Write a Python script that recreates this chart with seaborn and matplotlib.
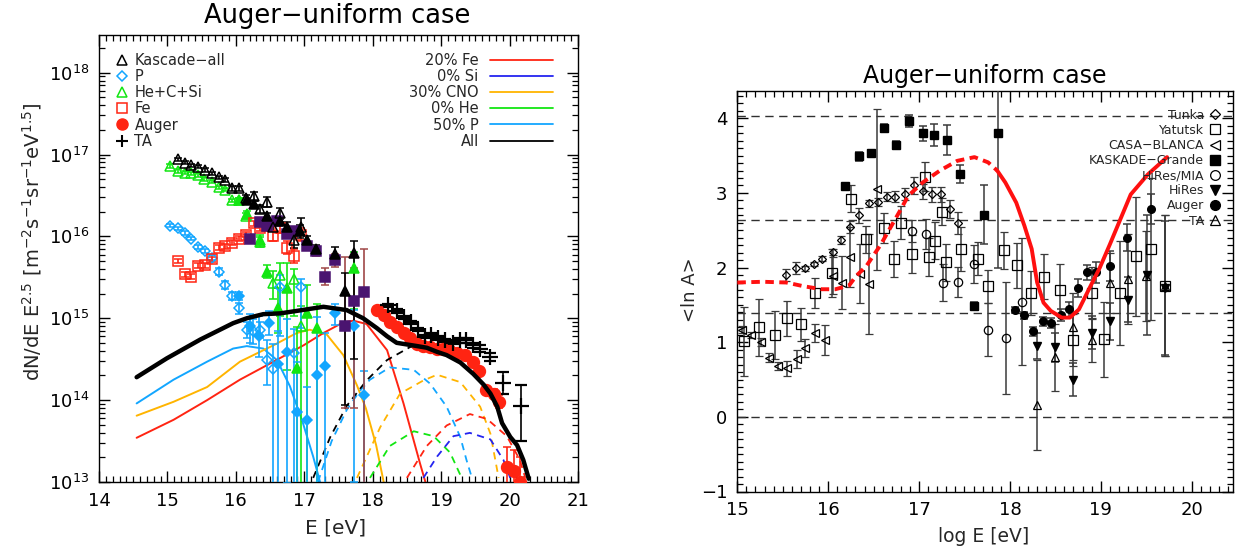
import numpy as np
import matplotlib
matplotlib.use("Agg")
import matplotlib.pyplot as plt
import seaborn as sns
from matplotlib.lines import Line2D
from matplotlib.ticker import MultipleLocator, LogLocator, NullFormatter

# ---------------- spectrum panel data (log10 E, log10 flux) ----------------
ka_x = [15.15, 15.25, 15.35, 15.44, 15.55, 15.65, 15.75, 15.84, 15.95, 16.05, 16.15, 16.26, 16.35, 16.45, 16.55, 16.65, 16.85, 16.95]
ka_ly = [16.94, 16.90, 16.87, 16.85, 16.81, 16.77, 16.72, 16.69, 16.59, 16.59, 16.47, 16.49, 16.33, 16.42, 16.12, 16.28, 15.96, 16.12]
ka_err = [0.02, 0.02, 0.02, 0.02, 0.02, 0.02, 0.02, 0.02, 0.03, 0.03, 0.03, 0.05, 0.05, 0.06, 0.06, 0.07, 0.10, 0.10]

kga_x = [16.16, 16.26, 16.45, 16.65, 16.75, 16.94, 17.04, 17.17, 17.45, 17.60, 17.73]
kga_ly = [16.44, 16.40, 16.25, 16.19, 16.12, 16.06, 15.96, 15.84, 15.79, 15.33, 15.80]
kga_lo = [0.03, 0.03, 0.04, 0.05, 0.06, 0.08, 0.05, 0.06, 0.08, 1.39, 1.30]
kga_hi = [0.03, 0.03, 0.04, 0.05, 0.06, 0.08, 0.05, 0.06, 0.08, 0.22, 0.14]

he_x = [15.04, 15.15, 15.25, 15.35, 15.44, 15.54, 15.65, 15.75, 15.84, 15.94, 16.05, 16.15, 16.35, 16.55, 16.65, 16.85, 16.95]
he_ly = [16.86, 16.80, 16.78, 16.77, 16.75, 16.70, 16.67, 16.60, 16.57, 16.44, 16.44, 16.25, 15.93, 15.43, 15.53, 15.48, 14.90]
he_lo = [0.02, 0.02, 0.02, 0.02, 0.02, 0.02, 0.02, 0.02, 0.02, 0.02, 0.03, 0.04, 0.06, 0.20, 0.50, 0.45, 2.00]
he_hi = [0.02, 0.02, 0.02, 0.02, 0.02, 0.02, 0.02, 0.02, 0.02, 0.02, 0.03, 0.04, 0.06, 0.15, 0.15, 0.12, 0.25]

kgh_x = [16.05, 16.16, 16.35, 16.45, 16.62, 16.75, 16.89, 17.04, 17.18, 17.73]
kgh_ly = [16.44, 16.27, 15.96, 15.57, 15.12, 15.37, 14.39, 15.06, 14.88, 15.61]
kgh_lo = [0.03, 0.04, 0.06, 0.08, 0.30, 1.00, 1.50, 2.10, 1.90, 0.50]
kgh_hi = [0.03, 0.04, 0.06, 0.08, 0.25, 0.30, 0.50, 0.35, 0.30, 0.20]

p_x = [15.04, 15.15, 15.25, 15.35, 15.44, 15.55, 15.65, 15.75, 15.84, 15.95, 16.05, 16.16, 16.25, 16.35, 16.45, 16.54, 16.65, 16.85, 16.95]
p_ly = [16.13, 16.10, 16.04, 15.97, 15.87, 15.82, 15.74, 15.57, 15.41, 15.27, 15.12, 14.86, 14.84, 14.86, 14.49, 14.38, 15.38, 14.57, 15.38]
p_lo = [0.02, 0.02, 0.02, 0.02, 0.02, 0.02, 0.03, 0.04, 0.05, 0.05, 0.07, 0.10, 0.15, 0.10, 0.30, 1.40, 0.60, 1.60, 0.50]
p_hi = [0.02, 0.02, 0.02, 0.02, 0.02, 0.02, 0.03, 0.04, 0.05, 0.05, 0.07, 0.10, 0.15, 0.10, 0.25, 0.30, 0.15, 0.30, 0.10]

kgp_x = [16.05, 16.20, 16.34, 16.48, 16.61, 16.75, 16.89, 17.04, 17.18, 17.31, 17.45, 17.73, 17.87]
kgp_ly = [15.27, 14.90, 14.78, 14.94, 14.44, 14.59, 13.86, 13.76, 14.31, 14.42, 15.07, 14.90, 14.06]
kgp_lo = [0.05, 0.20, 0.25, 0.15, 1.50, 1.60, 0.90, 0.80, 1.40, 1.50, 0.15, 1.90, 1.10]
kgp_hi = [0.05, 0.15, 0.25, 0.15, 0.40, 0.40, 0.60, 0.40, 0.70, 0.40, 0.10, 0.20, 0.30]

fe_x = [15.15, 15.25, 15.35, 15.44, 15.55, 15.65, 15.75, 15.84, 15.95, 16.05, 16.15, 16.26, 16.35, 16.45, 16.55, 16.65, 16.75, 16.85, 16.95]
fe_ly = [15.70, 15.54, 15.51, 15.64, 15.65, 15.72, 15.86, 15.88, 15.92, 15.97, 16.02, 16.16, 16.10, 16.13, 16.00, 16.10, 15.86, 15.76, 16.02]
fe_err = [0.03, 0.03, 0.03, 0.03, 0.03, 0.03, 0.03, 0.03, 0.03, 0.03, 0.03, 0.03, 0.04, 0.04, 0.06, 0.06, 0.08, 0.08, 0.08]

kgf_x = [16.20, 16.35, 16.45, 16.60, 16.75, 16.85, 17.04, 17.17, 17.31, 17.45, 17.60, 17.73, 17.87]
kgf_ly = [15.97, 16.18, 16.13, 16.19, 16.03, 16.06, 15.88, 15.82, 15.51, 15.71, 14.90, 15.21, 15.32]
kgf_lo = [0.03, 0.04, 0.04, 0.04, 0.05, 0.05, 0.05, 0.06, 0.10, 0.08, 1.00, 1.30, 2.40]
kgf_hi = [0.03, 0.04, 0.04, 0.04, 0.05, 0.05, 0.05, 0.06, 0.10, 0.08, 0.85, 0.40, 0.53]

au_x = [18.06, 18.16, 18.25, 18.35, 18.45, 18.55, 18.64, 18.74, 18.84, 18.94, 19.03, 19.13, 19.23, 19.35, 19.46, 19.56, 19.66, 19.77, 19.85, 19.96, 20.06, 20.15]
au_ly = [15.10, 15.04, 14.96, 14.89, 14.82, 14.76, 14.69, 14.66, 14.65, 14.63, 14.62, 14.60, 14.58, 14.55, 14.47, 14.36, 14.12, 14.08, 13.98, 13.18, 13.14, 13.00]
au_err = [0.01, 0.01, 0.01, 0.01, 0.01, 0.01, 0.01, 0.01, 0.01, 0.01, 0.01, 0.02, 0.02, 0.02, 0.03, 0.04, 0.05, 0.06, 0.08, 0.25, 0.25, 0.30]

ta_x = [18.23, 18.35, 18.46, 18.56, 18.66, 18.76, 18.85, 18.96, 19.06, 19.17, 19.28, 19.37, 19.47, 19.57, 19.71, 19.91, 20.16]
ta_ly = [15.16, 15.09, 15.01, 14.95, 14.86, 14.78, 14.80, 14.76, 14.73, 14.70, 14.73, 14.73, 14.67, 14.63, 14.53, 14.21, 13.93]
ta_lo = [0.02, 0.02, 0.02, 0.02, 0.02, 0.02, 0.02, 0.02, 0.02, 0.02, 0.03, 0.03, 0.03, 0.04, 0.05, 0.13, 0.43]
ta_hi = [0.02, 0.02, 0.02, 0.02, 0.02, 0.02, 0.02, 0.02, 0.02, 0.02, 0.03, 0.03, 0.03, 0.04, 0.05, 0.13, 0.25]

# model curves (log10 E, log10 flux)
all_x = [14.55, 14.99, 15.48, 15.96, 16.16, 16.40, 16.65, 16.89, 17.28, 17.62, 17.86, 18.06, 18.21, 18.35, 18.50, 18.65, 18.79, 18.94, 19.08, 19.28, 19.47, 19.62, 19.72, 19.82, 19.89, 20.01, 20.11, 20.20, 20.28]
all_ly = [14.28, 14.51, 14.74, 14.94, 15.00, 15.05, 15.06, 15.09, 15.14, 15.10, 15.00, 14.88, 14.78, 14.70, 14.68, 14.66, 14.64, 14.59, 14.55, 14.46, 14.32, 14.19, 14.08, 13.92, 13.72, 13.55, 13.45, 13.27, 13.04]

galp_x = [14.55, 15.09, 15.58, 15.96, 16.16, 16.40, 16.60, 16.79, 16.98, 17.13, 17.23]
galp_ly = [13.96, 14.25, 14.47, 14.63, 14.66, 14.63, 14.49, 14.17, 13.72, 13.31, 13.00]
galcno_x = [14.55, 15.09, 15.58, 16.06, 16.55, 16.89, 17.08, 17.33, 17.57, 17.77, 17.90, 18.05, 18.16]
galcno_ly = [13.81, 13.98, 14.16, 14.47, 14.67, 14.82, 14.86, 14.80, 14.55, 14.18, 13.90, 13.45, 13.00]
galfe_x = [14.55, 15.09, 15.58, 16.06, 16.55, 16.99, 17.28, 17.57, 17.72, 17.91, 18.21, 18.45, 18.69, 18.77]
galfe_ly = [13.54, 13.76, 14.00, 14.25, 14.47, 14.67, 14.82, 14.95, 14.97, 14.93, 14.61, 13.96, 13.23, 13.00]

egall_x = [17.13, 17.38, 17.62, 17.91, 18.21, 18.55, 18.85]
egall_ly = [13.05, 13.55, 13.93, 14.24, 14.49, 14.65, 14.66]
egp_x = [17.20, 17.40, 17.62, 17.80, 17.96, 18.25, 18.60, 18.84, 19.08, 19.28, 19.37, 19.45]
egp_ly = [13.00, 13.50, 13.88, 14.10, 14.25, 14.40, 14.37, 14.20, 13.92, 13.55, 13.27, 13.05]
egcno_x = [17.77, 18.11, 18.40, 18.74, 18.94, 19.28, 19.57, 19.72, 19.80, 19.84]
egcno_ly = [13.05, 13.67, 14.08, 14.24, 14.31, 14.22, 13.92, 13.59, 13.23, 13.05]
eghe_x = [17.96, 18.25, 18.60, 18.89, 19.13, 19.30]
eghe_ly = [13.05, 13.44, 13.62, 13.56, 13.36, 13.05]
egfe_x = [18.50, 18.79, 19.08, 19.42, 19.67, 19.96, 20.15, 20.23]
egfe_ly = [13.05, 13.44, 13.69, 13.83, 13.77, 13.56, 13.27, 13.05]
egsi_x = [18.74, 18.94, 19.18, 19.42, 19.72, 19.91, 20.01]
egsi_ly = [13.05, 13.31, 13.56, 13.60, 13.52, 13.27, 13.05]

mix_labels = ["20% Fe", "0% Si", "30% CNO", "0% He", "50% P", "All"]

# ---------------- <ln A> panel data ----------------
tu_x = [15.54, 15.65, 15.75, 15.84, 15.93, 16.05, 16.14, 16.24, 16.34, 16.45, 16.55, 16.65, 16.74, 16.85, 16.95, 17.04, 17.14, 17.24, 17.34, 17.43]
tu_y = [1.90, 1.99, 1.99, 2.05, 2.12, 2.21, 2.37, 2.55, 2.70, 2.86, 2.88, 2.95, 2.95, 2.99, 3.10, 3.02, 2.98, 2.98, 2.78, 2.60]
tu_e = [0.08, 0.08, 0.03, 0.03, 0.03, 0.04, 0.05, 0.08, 0.10, 0.05, 0.05, 0.06, 0.07, 0.08, 0.12, 0.10, 0.10, 0.10, 0.12, 0.15]

ya_x = [15.07, 15.24, 15.41, 15.55, 15.70, 15.85, 16.04, 16.25, 16.42, 16.62, 16.72, 16.80, 16.92, 17.07, 17.11, 17.18, 17.25, 17.30, 17.46, 17.65, 17.76, 17.93, 18.08, 18.23, 18.38, 18.55, 18.70, 18.90, 19.04, 19.21, 19.39, 19.55, 19.71]
ya_y = [1.01, 1.20, 1.10, 1.32, 1.24, 1.66, 1.93, 2.92, 2.38, 2.53, 2.12, 2.60, 2.18, 3.22, 2.14, 2.36, 2.75, 2.07, 2.25, 2.12, 1.75, 2.23, 2.03, 1.66, 1.88, 1.70, 1.03, 1.66, 1.04, 1.66, 2.15, 2.25, 1.76]
ya_e = [0.46, 0.38, 0.32, 0.23, 0.22, 0.20, 0.32, 0.18, 0.18, 0.20, 0.24, 0.22, 0.25, 0.20, 0.25, 0.25, 0.18, 0.25, 0.30, 0.22, 0.22, 0.25, 0.30, 0.30, 0.30, 0.35, 0.35, 0.35, 0.50, 0.70, 0.80, 0.95, 0.95]

cb_x = [15.05, 15.15, 15.26, 15.35, 15.45, 15.55, 15.66, 15.75, 15.85, 15.96, 16.05, 16.15, 16.24, 16.35, 16.45, 16.54]
cb_y = [1.17, 1.10, 1.00, 0.79, 0.68, 0.65, 0.77, 0.92, 1.12, 1.03, 1.89, 1.80, 2.14, 1.92, 1.78, 3.05]
cb_e = [0.05, 0.04, 0.05, 0.06, 0.05, 0.10, 0.12, 0.12, 0.12, 0.20, 0.25, 0.35, 0.40, 0.40, 0.67, 1.08]

kg_x = [16.19, 16.34, 16.47, 16.61, 16.75, 16.89, 17.04, 17.17, 17.31, 17.45, 17.60, 17.72, 17.87]
kg_y = [3.09, 3.49, 3.53, 3.87, 3.64, 3.97, 3.80, 3.78, 3.71, 3.26, 1.49, 2.71, 3.80]
kg_e = [0.02, 0.06, 0.04, 0.05, 0.05, 0.08, 0.10, 0.15, 0.20, 0.12, 0.05, 0.40, 1.80]

hm_x = [16.92, 17.08, 17.26, 17.43, 17.61, 17.76, 17.96, 18.13]
hm_y = [2.49, 2.45, 1.80, 1.81, 2.05, 1.17, 1.06, 1.54]
hm_e = [0.15, 0.20, 0.25, 0.20, 0.25, 0.35, 0.75, 0.85]

hr_x = [18.30, 18.50, 18.70, 18.90, 19.10, 19.30, 19.51, 19.71]
hr_y = [0.95, 0.93, 0.50, 1.13, 1.28, 1.57, 1.90, 1.73]
hr_e = [0.17, 0.20, 0.22, 0.22, 0.25, 0.30, 0.80, 0.90]

aug_x = [18.06, 18.15, 18.25, 18.36, 18.45, 18.56, 18.65, 18.75, 18.85, 18.95, 19.10, 19.29, 19.55]
aug_y = [1.43, 1.36, 1.15, 1.28, 1.26, 1.37, 1.44, 1.73, 1.94, 1.94, 2.02, 2.40, 2.78]
aug_e = [0.04, 0.05, 0.06, 0.06, 0.07, 0.08, 0.10, 0.12, 0.10, 0.14, 0.20, 0.18, 0.20]

tar_x = [18.30, 18.50, 18.70, 18.90, 19.10, 19.30, 19.50, 19.71]
tar_y = [0.16, 0.80, 1.21, 1.03, 1.79, 1.85, 1.89, 1.76]
tar_e = [0.60, 0.45, 0.45, 0.30, 0.40, 0.60, 0.60, 0.95]

lnA_dash_x = [15.00, 15.28, 15.54, 15.73, 15.93, 16.08, 16.23, 16.31, 16.42, 16.58, 16.79, 16.88, 17.04, 17.23, 17.42, 17.61, 17.76, 17.86]
lnA_dash_y = [1.80, 1.81, 1.80, 1.75, 1.71, 1.71, 1.76, 1.89, 2.02, 2.31, 2.76, 2.96, 3.14, 3.30, 3.43, 3.48, 3.41, 3.30]
lnA_solid_x = [17.86, 17.95, 18.07, 18.16, 18.24, 18.30, 18.37, 18.45, 18.57, 18.66, 18.76, 18.87, 18.99, 19.10, 19.33, 19.52, 19.73]
lnA_solid_y = [3.30, 3.14, 2.87, 2.56, 2.25, 1.80, 1.53, 1.42, 1.33, 1.33, 1.44, 1.71, 2.00, 2.31, 2.98, 3.25, 3.48]

# ln A of P, He, CNO, Fe reference levels
lnA_refs = [0.0, np.log(4), np.log(14), np.log(56)]

# ---------------- style ----------------
sns.set_theme(style="ticks")
plt.rcParams["font.family"] = ["DejaVu Sans"]
plt.rcParams["mathtext.fontset"] = "dejavusans"
plt.rcParams["axes.linewidth"] = 1.0

RED = "#ff2412"
LBLUE = "#12a6ff"
ORANGE = "#ffb400"
GREEN = "#12e612"
BLUE = "#2424f0"
PURPLE = "#4a1470"
BROWN = "#a04848"

fig = plt.figure(figsize=(12.48, 5.51), dpi=100)
axL = fig.add_axes([99 / 1248, 69 / 551, 479 / 1248, 447 / 551])
axR = fig.add_axes([737.3 / 1248, 59.5 / 551, 495.2 / 1248, 400.8 / 551])
for ax in (axL, axR):
    ax.set_facecolor("white")
    for s in ax.spines.values():
        s.set_color("black")
        s.set_linewidth(1.0)

axL.set_yscale("log")
axL.set_xlim(14, 21)
axL.set_ylim(1e13, 10 ** 18.46)


def log_points(ax, xs, ly, lo, hi, marker, color, ms, filled, ecolor=None, z=3, mew=1.1, cap=3):
    ly = np.asarray(ly, float)
    y = 10 ** ly
    ylo = y - 10 ** (ly - np.asarray(lo, float))
    yhi = 10 ** (ly + np.asarray(hi, float)) - y
    ax.errorbar(xs, y, yerr=[ylo, yhi], fmt=marker, ms=ms, mec=color,
                mfc=color if filled else "none", mew=mew,
                ecolor=ecolor or color, elinewidth=1.2, capsize=cap,
                capthick=1.2, zorder=z)


def log_curve(ax, xs, ly, color, lw, ls="-", z=2):
    sns.lineplot(x=xs, y=10 ** np.asarray(ly, float), ax=ax, color=color,
                 linewidth=lw, linestyle=ls, sort=False, estimator=None, zorder=z)


# galactic and extragalactic components
dash = (0, (4, 3))
log_curve(axL, galp_x, galp_ly, LBLUE, 1.4)
log_curve(axL, galcno_x, galcno_ly, ORANGE, 1.4)
log_curve(axL, galfe_x, galfe_ly, RED, 1.4)
log_curve(axL, egp_x, egp_ly, LBLUE, 1.3, dash)
log_curve(axL, egall_x, egall_ly, "black", 1.3, dash)
log_curve(axL, egcno_x, egcno_ly, ORANGE, 1.3, dash)
log_curve(axL, eghe_x, eghe_ly, GREEN, 1.3, dash)
log_curve(axL, egfe_x, egfe_ly, RED, 1.3, dash)
log_curve(axL, egsi_x, egsi_ly, BLUE, 1.3, dash)

# measurements
log_points(axL, he_x, he_ly, he_lo, he_hi, "^", GREEN, 7, False)
log_points(axL, kgh_x, kgh_ly, kgh_lo, kgh_hi, "^", GREEN, 6.5, True)
log_points(axL, p_x, p_ly, p_lo, p_hi, "D", LBLUE, 5.5, False)
log_points(axL, kgp_x, kgp_ly, kgp_lo, kgp_hi, "D", LBLUE, 5, True)
log_points(axL, fe_x, fe_ly, fe_err, fe_err, "s", RED, 7.5, False)
log_points(axL, kgf_x, kgf_ly, kgf_lo, kgf_hi, "s", PURPLE, 7.5, True, ecolor=BROWN)
log_points(axL, ka_x, ka_ly, ka_err, ka_err, "^", "black", 7, False)
log_points(axL, kga_x, kga_ly, kga_lo, kga_hi, "^", "black", 6.5, True)
log_points(axL, au_x, au_ly, au_err, au_err, "o", RED, 8.5, True)
log_points(axL, ta_x, ta_ly, ta_lo, ta_hi, "+", "black", 11, False, mew=1.6, cap=4)

log_curve(axL, all_x, all_ly, "black", 3.2, z=6)

axL.xaxis.set_major_locator(MultipleLocator(1))
axL.xaxis.set_minor_locator(MultipleLocator(0.1))
axL.yaxis.set_major_locator(LogLocator(base=10, numticks=20))
axL.yaxis.set_minor_locator(LogLocator(base=10, subs=np.arange(2, 10), numticks=20))
axL.yaxis.set_minor_formatter(NullFormatter())

# legends of the spectrum panel
data_handles = [
    Line2D([], [], ls="none", marker="^", ms=7, mec="black", mfc="none", mew=1.1),
    Line2D([], [], ls="none", marker="D", ms=5.5, mec=LBLUE, mfc="none", mew=1.1),
    Line2D([], [], ls="none", marker="^", ms=7, mec=GREEN, mfc="none", mew=1.1),
    Line2D([], [], ls="none", marker="s", ms=7.5, mec=RED, mfc="none", mew=1.1),
    Line2D([], [], ls="none", marker="o", ms=8, mec=RED, mfc=RED),
    Line2D([], [], ls="none", marker="+", ms=9, mec="black", mew=1.5),
]
data_labels = ["Kascade\u2212all", "P", "He+C+Si", "Fe", "Auger", "TA"]
legA = axL.legend(data_handles, data_labels, loc="upper left",
                  bbox_to_anchor=(0.033, 0.96), frameon=False, fontsize=10.5,
                  handlelength=1.0, handletextpad=0.35, labelspacing=0.08,
                  borderpad=0, borderaxespad=0)
axL.add_artist(legA)
mix_handles = [Line2D([], [], color=c, lw=1.3) for c in (RED, BLUE, ORANGE, GREEN, LBLUE, "black")]
axL.legend(mix_handles, mix_labels, loc="upper right",
           bbox_to_anchor=(0.948, 0.96), frameon=False, fontsize=10.5,
           handlelength=4.3, handletextpad=0.8, labelspacing=0.08,
           markerfirst=False, borderpad=0, borderaxespad=0)

# ---------------- <ln A> panel ----------------
axR.set_xlim(15, 20.45)
axR.set_ylim(-1, 4.37)
for lv in lnA_refs:
    axR.axhline(lv, color="#303030", lw=1.0, ls=(0, (6, 4)), zorder=1)

ekw = dict(ecolor="#3a3a3a", elinewidth=1.1, capsize=3, capthick=1.1, zorder=3)
axR.errorbar(tu_x, tu_y, yerr=tu_e, fmt="D", ms=4, mec="black", mfc="none", mew=0.9, **ekw)
axR.errorbar(ya_x, ya_y, yerr=ya_e, fmt="s", ms=7, mec="black", mfc="none", mew=0.9, **ekw)
axR.errorbar(cb_x, cb_y, yerr=cb_e, fmt="<", ms=6, mec="black", mfc="none", mew=0.9, **ekw)
axR.errorbar(kg_x, kg_y, yerr=kg_e, fmt="s", ms=6, mec="black", mfc="black", **ekw)
axR.errorbar(hm_x, hm_y, yerr=hm_e, fmt="o", ms=6, mec="black", mfc="none", mew=0.9, **ekw)
axR.errorbar(hr_x, hr_y, yerr=hr_e, fmt="v", ms=5.5, mec="black", mfc="black", **ekw)
axR.errorbar(aug_x, aug_y, yerr=aug_e, fmt="o", ms=5.5, mec="black", mfc="black", **ekw)
axR.errorbar(tar_x, tar_y, yerr=tar_e, fmt="^", ms=6, mec="black", mfc="none", mew=0.9, **ekw)

sns.lineplot(x=lnA_dash_x, y=lnA_dash_y, ax=axR, color="#ff1010", linewidth=2.8,
             linestyle=(0, (2.2, 1.4)), sort=False, estimator=None, zorder=5)
sns.lineplot(x=lnA_solid_x, y=lnA_solid_y, ax=axR, color="#ff1010", linewidth=2.8,
             sort=False, estimator=None, zorder=5)

axR.xaxis.set_major_locator(MultipleLocator(1))
axR.xaxis.set_minor_locator(MultipleLocator(0.1))
axR.yaxis.set_major_locator(MultipleLocator(1))
axR.yaxis.set_minor_locator(MultipleLocator(0.1))

exp_handles = [
    Line2D([], [], ls="none", marker="D", ms=5, mec="black", mfc="none", mew=0.9),
    Line2D([], [], ls="none", marker="s", ms=7, mec="black", mfc="none", mew=0.9),
    Line2D([], [], ls="none", marker="<", ms=7, mec="black", mfc="none", mew=0.9),
    Line2D([], [], ls="none", marker="s", ms=7, mec="black", mfc="black"),
    Line2D([], [], ls="none", marker="o", ms=7, mec="black", mfc="none", mew=0.9),
    Line2D([], [], ls="none", marker="v", ms=7, mec="black", mfc="black"),
    Line2D([], [], ls="none", marker="o", ms=7, mec="black", mfc="black"),
    Line2D([], [], ls="none", marker="^", ms=7, mec="black", mfc="none", mew=0.9),
]
exp_labels = ["Tunka", "Yatutsk", "CASA\u2212BLANCA", "KASKADE\u2212Grande",
              "HiRes/MIA", "HiRes", "Auger", "TA"]
axR.legend(exp_handles, exp_labels, loc="upper right", bbox_to_anchor=(0.978, 0.955),
           frameon=False, fontsize=9, handlelength=1.0, handletextpad=0.4,
           labelspacing=0.17, markerfirst=False, borderpad=0, borderaxespad=0)

for ax in (axL, axR):
    ax.tick_params(which="both", direction="in", top=True, right=True,
                   colors="black", labelcolor="black")
    ax.tick_params(which="major", length=8, width=1.0, labelsize=13, pad=7)
    ax.tick_params(which="minor", length=4, width=0.9)
    ax.grid(False)

# titles and axis labels
fig.text(337 / 1248, 1 - 22.7 / 551, "Auger\u2212uniform case", ha="center",
         va="baseline", fontsize=18.5, color="black")
fig.text(985 / 1248, 1 - 82.5 / 551, "Auger\u2212uniform case", ha="center",
         va="baseline", fontsize=17, color="black")
fig.text(336 / 1248, 1 - 528 / 551, "E [eV]", ha="center", va="center", fontsize=14.5)
fig.text(984 / 1248, 1 - 536 / 551, "log E [eV]", ha="center", va="center", fontsize=13.5)
fig.text(32 / 1248, 1 - 242 / 551,
         r"dN/dE E$^{2.5}$ [m$^{-2}$s$^{-1}$sr$^{-1}$eV$^{1.5}$]",
         ha="center", va="center", rotation=90, fontsize=14)
fig.text(690 / 1248, 1 - 290 / 551, "<ln A>", ha="center", va="center",
         rotation=90, fontsize=13)

fig.savefig("out.png", dpi=100, facecolor="white")
